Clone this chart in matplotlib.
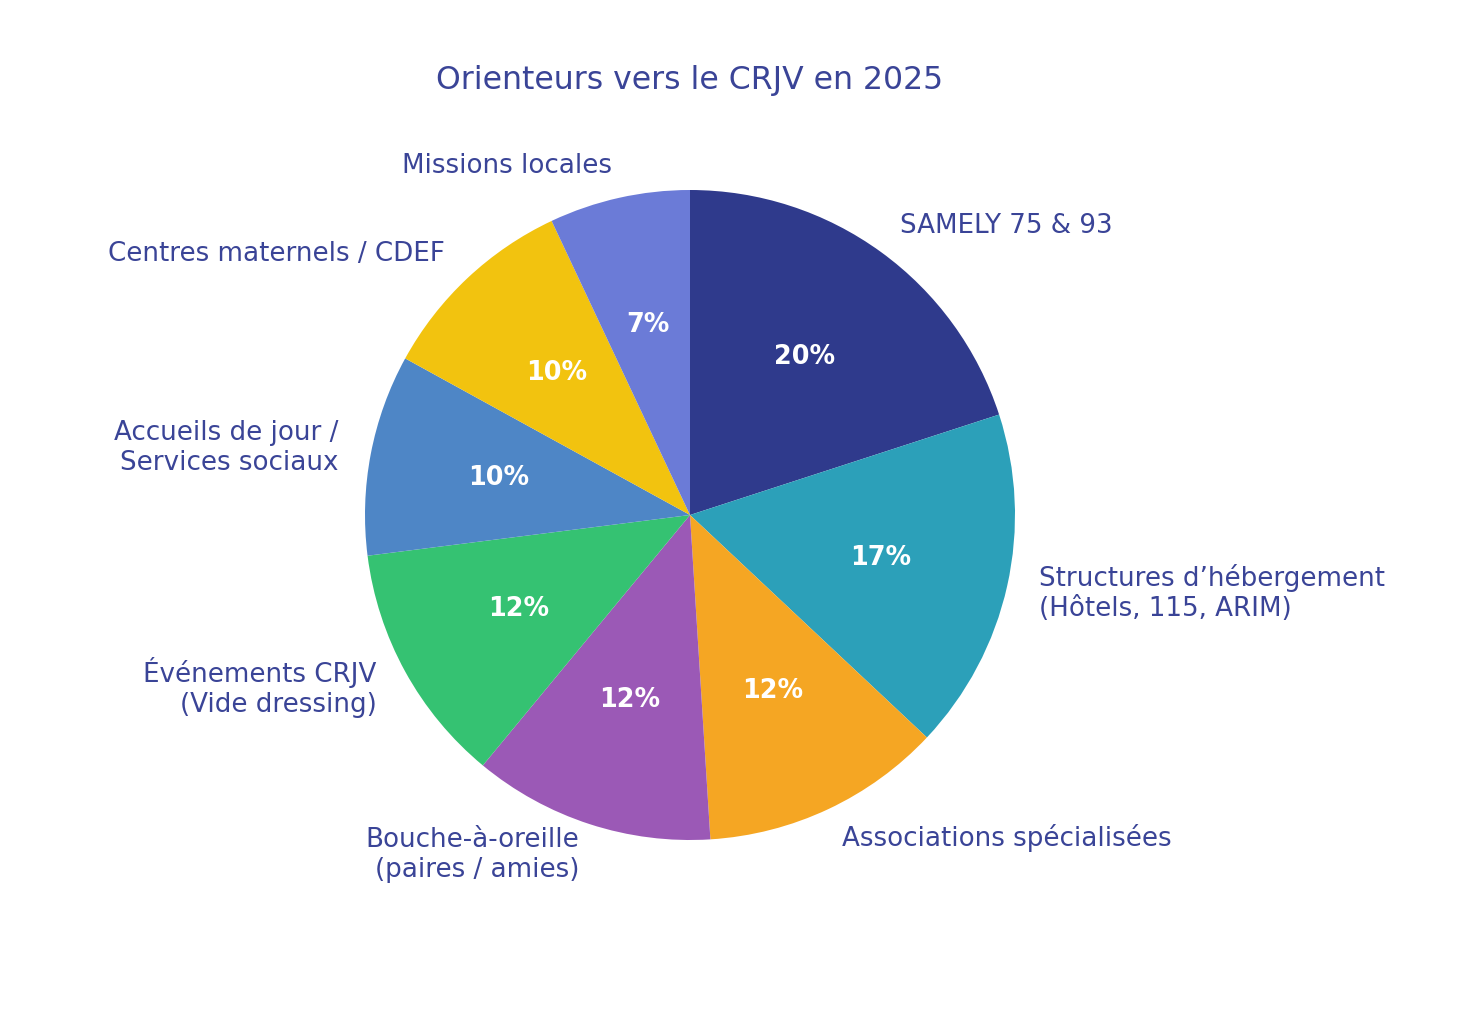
import matplotlib.pyplot as plt

labels = [
    "SAMELY 75 & 93",
    "Structures d\u2019hébergement\n(Hôtels, 115, ARIM)",
    "Associations spécialisées",
    "Bouche-à-oreille\n(paires / amies)",
    "Événements CRJV\n(Vide dressing)",
    "Accueils de jour /\nServices sociaux",
    "Centres maternels / CDEF",
    "Missions locales",
]
values = [20, 17, 12, 12, 12, 10, 10, 7]
colors = ["#2f3a8c", "#2ca0b9", "#f5a623", "#9b59b6", "#35c272", "#4e86c6", "#f2c30f", "#6b7bd7"]
text_color = "#3a4497"

W, H = 1474, 1014
cx, cy, rad = 690, 515, 325

fig = plt.figure(figsize=(W / 100, H / 100), dpi=100)
ax = fig.add_axes([0, 0, 1, 1])
wedges, texts, autotexts = ax.pie(
    values, labels=labels, colors=colors, startangle=90, counterclock=False,
    autopct="%1.0f%%", pctdistance=0.6, labeldistance=1.1,
    textprops={"color": text_color, "fontsize": 18.8},
)
for t in autotexts:
    t.set_color("white")
    t.set_fontweight("bold")
    t.set_fontsize(18.4)

ax.set_xlim(-cx / rad, (W - cx) / rad)
ax.set_ylim(-(H - cy) / rad, cy / rad)
ax.set_aspect("auto")
ax.axis("off")

fig.text(cx / W, 1 - 80 / H, "Orienteurs vers le CRJV en 2025", ha="center", va="center",
         fontsize=22.7, color=text_color)

fig.savefig("out.png", dpi=100, facecolor="white")
